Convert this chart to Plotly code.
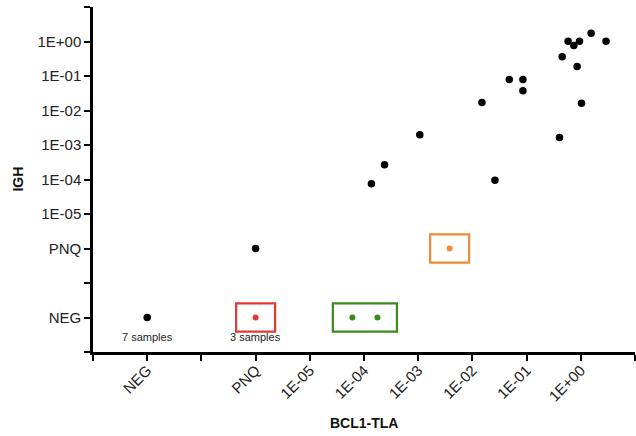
import numpy as np
import plotly.graph_objects as go

# ---- data ----
# category positions on the log10 axes
CATEGORIES = {"NEG": -8, "PNQ": -6}

x_ticks = [-9, -8, -7, -6, -5, -4, -3, -2, -1, 0, 1]
x_ticklabels = ["", "NEG", "", "PNQ", "1E-05", "1E-04", "1E-03", "1E-02", "1E-01", "1E+00", ""]
y_ticks = [-9, -8, -7, -6, -5, -4, -3, -2, -1, 0, 1]
y_ticklabels = ["", "NEG", "", "PNQ", "1E-05", "1E-04", "1E-03", "1E-02", "1E-01", "1E+00", ""]

black_x = ["NEG", "PNQ", 1.37e-4, 2.39e-4, 1.07e-3, 1.50e-2, 2.61e-2, 4.79e-2, 8.55e-2, 8.55e-2,
           0.405, 0.453, 0.583, 0.743, 0.946, 0.855, 1.03, 1.55, 2.92]
black_y = ["NEG", "PNQ", 7.5e-5, 2.67e-4, 1.98e-3, 1.71e-2, 9.5e-5, 7.9e-2, 7.9e-2, 3.72e-2,
           1.65e-3, 0.361, 1.02, 0.766, 1.02, 0.188, 1.63e-2, 1.74, 1.02]

red_x = ["PNQ"]
red_y = ["NEG"]
green_x = [6.1e-5, 1.77e-4]
green_y = ["NEG", "NEG"]
orange_x = [3.8e-3]
orange_y = ["PNQ"]

sample_notes = [("NEG", "NEG", "7 samples"), ("PNQ", "NEG", "3 samples")]

x_title = "BCL1-TLA"
y_title = "IGH"


def pos(v):
    if isinstance(v, str):
        return CATEGORIES[v]
    return float(np.log10(v))


def P(vals):
    return [pos(v) for v in vals]


FONT = "Arial, Liberation Sans, sans-serif"
RED = "#e53935"
GREEN = "#3b8a1e"
ORANGE = "#f08a35"

fig = go.Figure()

fig.add_trace(go.Scatter(x=P(black_x), y=P(black_y), mode="markers",
                         marker=dict(color="black", size=7.5), hoverinfo="skip"))

groups = [(red_x, red_y, RED), (green_x, green_y, GREEN), (orange_x, orange_y, ORANGE)]
XPAD, YPAD = 0.36, 0.41
for gx, gy, col in groups:
    xs, ys = P(gx), P(gy)
    fig.add_trace(go.Scatter(x=xs, y=ys, mode="markers",
                             marker=dict(color=col, size=6), hoverinfo="skip"))
    fig.add_shape(type="rect", xref="x", yref="y",
                  x0=min(xs) - XPAD, x1=max(xs) + XPAD,
                  y0=min(ys) - YPAD, y1=max(ys) + YPAD,
                  line=dict(color=col, width=2.2), fillcolor="rgba(0,0,0,0)")

for nx, ny, txt in sample_notes:
    fig.add_annotation(x=pos(nx), y=pos(ny), text=txt, showarrow=False,
                       yshift=-19, font=dict(family=FONT, size=11, color="#222"))

fig.add_annotation(xref="paper", yref="paper", x=0.5, y=-0.205, text="<b>%s</b>" % x_title,
                   xanchor="center", yanchor="middle",
                   showarrow=False, font=dict(family=FONT, size=14, color="#111"))
fig.add_annotation(xref="paper", yref="paper", x=-0.14, y=0.5, text="<b>%s</b>" % y_title,
                   xanchor="center", yanchor="middle",
                   textangle=-90, showarrow=False, font=dict(family=FONT, size=14, color="#111"))

axis_common = dict(showline=True, linecolor="black", linewidth=2.5, showgrid=False,
                   zeroline=False, ticks="outside", ticklen=6, tickwidth=2, tickcolor="black",
                   tickfont=dict(family=FONT, size=15, color="#222"), tickmode="array",
                   automargin=False)

fig.update_xaxes(range=[-9, 1], tickvals=x_ticks, ticktext=x_ticklabels, tickangle=-45,
                 ticklabelstandoff=-5, **axis_common)
fig.update_yaxes(range=[-9, 1], tickvals=y_ticks, ticktext=y_ticklabels, **axis_common)

fig.update_layout(width=636, height=436, showlegend=False,
                  margin=dict(l=93, r=1, t=7, b=84),
                  plot_bgcolor="white", paper_bgcolor="white")

fig.write_html("out.html", config={"displayModeBar": False},
               post_script="document.body.style.margin='0';")
